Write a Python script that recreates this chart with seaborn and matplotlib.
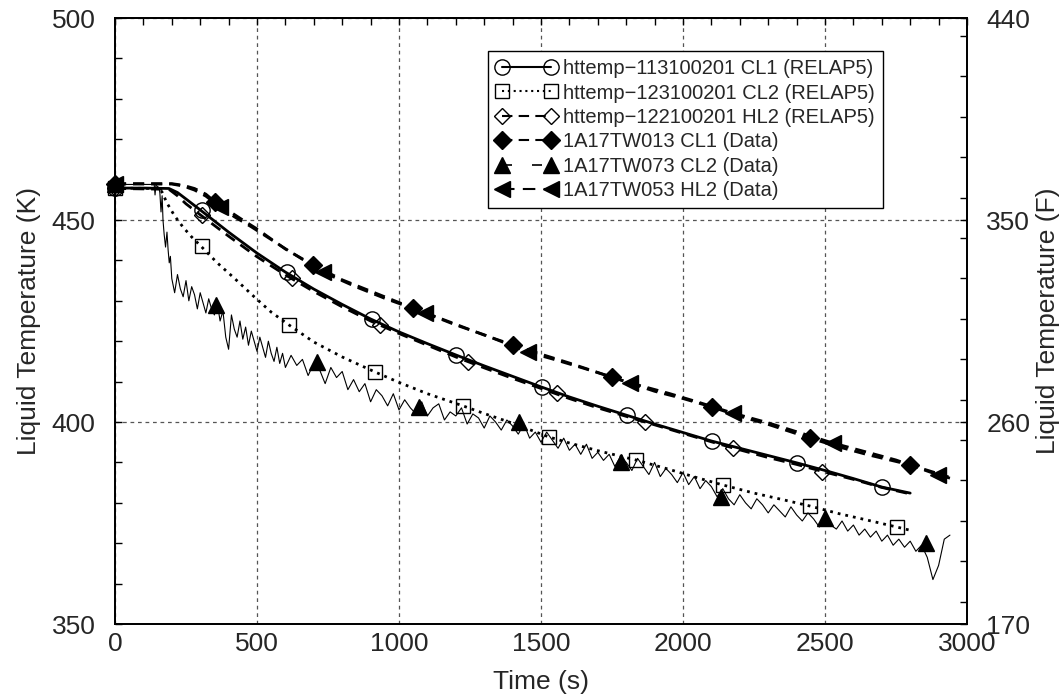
import numpy as np
import pandas as pd
import matplotlib
matplotlib.use("Agg")
import matplotlib.pyplot as plt
from matplotlib.lines import Line2D
from matplotlib.ticker import MultipleLocator
import seaborn as sns

# ---------------- data ----------------
# RELAP5 CL1 (solid, open circles)
cl1_relap_t = [0, 100, 190, 220, 250, 300, 400, 500, 600, 700, 800, 900, 1000, 1100, 1200, 1300,
               1400, 1500, 1600, 1700, 1800, 1900, 2000, 2100, 2200, 2300, 2400, 2500, 2600, 2700, 2800]
cl1_relap_T = [457.9, 457.9, 457.8, 456.8, 455.2, 452.5, 447.0, 441.8, 437.1, 432.9, 429.1, 425.5,
               422.3, 419.4, 416.6, 413.9, 411.3, 408.7, 406.2, 403.9, 401.7, 399.5, 397.4, 395.3,
               393.5, 391.7, 389.9, 388.0, 386.0, 383.9, 382.4]
cl1_relap_mt = [0, 306, 606, 905, 1201, 1503, 1803, 2102, 2401, 2701]
cl1_relap_mT = [457.9, 452.5, 437.1, 425.5, 416.6, 408.7, 401.7, 395.3, 389.9, 383.9]

# RELAP5 CL2 (dotted, open squares)
cl2_relap_t = [0, 150, 165, 183, 210, 240, 270, 300, 360, 420, 490, 550, 613, 700, 800, 915, 1000,
               1100, 1225, 1300, 1400, 1528, 1600, 1700, 1834, 1950, 2050, 2141, 2250, 2350, 2447,
               2550, 2650, 2753, 2800]
cl2_relap_T = [457.9, 457.8, 457.0, 454.2, 451.0, 448.2, 445.8, 443.7, 439.4, 435.6, 431.0, 427.2,
               424.0, 419.8, 416.1, 412.4, 409.8, 407.0, 404.0, 402.1, 399.7, 396.3, 394.8, 392.9,
               390.6, 388.3, 386.2, 384.4, 382.4, 380.8, 379.2, 377.3, 375.7, 374.0, 373.2]
cl2_relap_mt = [0, 306, 613, 915, 1225, 1528, 1834, 2141, 2447, 2753]
cl2_relap_mT = [457.9, 443.6, 424.0, 412.4, 404.0, 396.3, 390.6, 384.4, 379.2, 374.0]

# RELAP5 HL2 (dashed, open diamonds)
hl2_relap_t = [0, 190, 220, 250, 300, 400, 500, 600, 700, 800, 900, 1000, 1100, 1200, 1300, 1400,
               1500, 1600, 1700, 1800, 1900, 2000, 2100, 2200, 2300, 2400, 2500, 2600, 2700, 2800]
hl2_relap_T = [457.8, 457.6, 456.0, 454.0, 451.3, 446.0, 440.9, 436.4, 432.3, 428.5, 425.0, 421.9,
               419.0, 416.1, 413.4, 410.8, 408.3, 405.8, 403.5, 401.4, 399.3, 397.2, 395.1, 393.1,
               391.2, 389.5, 387.6, 385.8, 383.8, 382.2]
hl2_relap_mt = [0, 307, 623, 933, 1243, 1556, 1866, 2176, 2489]
hl2_relap_mT = [457.8, 451.2, 435.6, 424.0, 414.9, 407.2, 400.0, 393.6, 387.6]

# Data 1A17TW013 CL1 (dashed, filled diamonds)
cl1_data_t = [0, 200, 240, 280, 320, 352, 400, 450, 500, 550, 600, 697, 800, 900, 1049, 1200, 1300,
              1401, 1500, 1600, 1750, 1900, 2000, 2102, 2200, 2300, 2447, 2550, 2650, 2799, 2900, 2935]
cl1_data_T = [459.0, 459.0, 458.6, 457.8, 456.4, 454.5, 452.3, 450.0, 447.8, 445.3, 442.8, 438.9,
              435.2, 432.4, 428.2, 424.2, 421.5, 419.1, 416.8, 414.6, 411.1, 407.6, 405.8, 403.7,
              401.4, 399.4, 396.0, 393.8, 391.9, 389.4, 387.2, 386.4]
cl1_data_mt = [0, 352, 697, 1049, 1401, 1750, 2102, 2447, 2799]
cl1_data_mT = [459.0, 454.5, 438.9, 428.2, 419.1, 411.1, 403.7, 396.0, 389.4]

# Data 1A17TW053 HL2 (dashed, filled left triangles)
hl2_data_t = [0, 200, 240, 280, 320, 370, 420, 480, 540, 600, 732, 850, 950, 1092, 1200, 1300, 1454,
              1550, 1650, 1813, 1950, 2050, 2176, 2300, 2400, 2528, 2650, 2750, 2898, 2940]
hl2_data_T = [458.9, 458.9, 458.4, 457.4, 455.9, 453.2, 450.8, 448.3, 445.6, 442.9, 437.1, 433.4,
              430.6, 427.0, 424.0, 421.6, 417.3, 415.4, 413.3, 409.7, 407.1, 405.0, 402.2, 399.8,
              397.6, 394.8, 392.5, 390.6, 386.9, 386.1]
hl2_data_mt = [0, 370, 732, 1092, 1454, 1813, 2176, 2528, 2898]
hl2_data_mT = [458.9, 453.2, 437.1, 427.0, 417.3, 409.7, 402.2, 394.8, 386.9]

# Data 1A17TW073 CL2 (thin noisy line, filled triangles)
cl2_data_t_start = [0, 60, 120, 138, 141, 144, 155, 158, 162, 166, 169, 173, 178, 183, 187, 191, 195]
cl2_data_T_start = [458.8, 458.8, 458.8, 458.8, 456.2, 458.6, 458.0, 456.7, 452.0, 456.0, 450.0,
                    446.5, 443.3, 447.0, 442.6, 439.4, 441.0]
# t = 200 .. 590, step 10
cl2_data_T_mid = [435.5, 432.0, 436.5, 433.0, 431.0, 435.0, 430.0, 433.5, 431.5, 428.0,
                  432.0, 429.5, 427.0, 430.5, 428.0, 426.5, 429.5, 425.0, 427.5, 421.0,
                  418.0, 426.5, 423.0, 421.0, 425.0, 420.5, 423.5, 419.0, 422.5, 420.0,
                  417.5, 421.0, 418.5, 416.0, 420.0, 417.0, 415.0, 418.5, 414.5, 417.0]
# t = 600 .. 2940, step 20
cl2_data_T_end = [413.5, 416.5, 414.0, 415.5, 411.5, 414.5, 413.0, 409.5, 413.5, 411.0,
                  412.5, 408.0, 410.5, 407.5, 409.5, 405.0, 408.0, 406.5, 404.0, 407.0,
                  403.0, 405.5, 403.5, 402.0, 405.0, 401.5, 403.5, 404.5, 400.5, 402.5,
                  401.5, 403.5, 399.5, 402.0, 401.0, 398.5, 401.5, 400.0, 398.0, 400.5,
                  399.0, 397.0, 399.5, 396.0, 397.5, 395.0, 397.5, 395.5, 393.5, 396.0,
                  393.0, 394.5, 392.0, 394.5, 391.0, 392.5, 390.5, 392.0, 389.0, 391.5,
                  390.0, 388.0, 391.0, 389.0, 387.0, 390.0, 386.5, 388.5, 387.0, 385.0,
                  387.5, 384.5, 386.5, 383.5, 385.5, 384.0, 381.5, 383.5, 381.0, 379.5,
                  382.0, 380.0, 378.5, 381.0, 379.5, 377.5, 379.5, 378.0, 376.5, 379.0,
                  377.0, 375.5, 377.5, 376.0, 374.0, 376.5, 374.5, 373.5, 375.5, 373.0,
                  374.5, 372.0, 373.5, 371.5, 373.0, 370.5, 372.0, 369.5, 371.0, 369.0,
                  370.5, 368.0, 369.5, 366.5, 361.0, 364.5, 371.0, 372.0]
cl2_data_mt = [0, 356, 713, 1070, 1422, 1782, 2135, 2499, 2855]
cl2_data_mT = [458.8, 429.0, 414.9, 403.6, 400.0, 390.0, 381.4, 376.2, 370.0]

labels = ["httemp\u2212113100201 CL1 (RELAP5)",
          "httemp\u2212123100201 CL2 (RELAP5)",
          "httemp\u2212122100201 HL2 (RELAP5)",
          "1A17TW013 CL1 (Data)",
          "1A17TW073 CL2 (Data)",
          "1A17TW053 HL2 (Data)"]

x_ticks = [0, 500, 1000, 1500, 2000, 2500, 3000]
yk_ticks = [350, 400, 450, 500]
yf_ticks = [170, 260, 350, 440]

cl2_data_t = (cl2_data_t_start + list(np.arange(200, 600, 10)) + list(np.arange(600, 2960, 20)))
cl2_data_T = cl2_data_T_start + cl2_data_T_mid + cl2_data_T_end

# ---------------- style ----------------
sns.set_theme(style="white")
plt.rcParams['font.family'] = ['Liberation Sans', 'DejaVu Sans']
plt.rcParams['axes.unicode_minus'] = True

fig = plt.figure(figsize=(10.62, 7.0), dpi=100)
ax = fig.add_axes([115 / 1062, 76 / 700, 852 / 1062, 606 / 700])

DASH = (0, (4, 2.5))
series = [
    dict(t=cl1_relap_t, T=cl1_relap_T, mt=cl1_relap_mt, mT=cl1_relap_mT, ls='-', lw=2.0,
         marker='o', ms=11, mfc='none', lab=labels[0]),
    dict(t=cl2_relap_t, T=cl2_relap_T, mt=cl2_relap_mt, mT=cl2_relap_mT, ls=(0, (1, 1.8)), lw=2.0,
         marker='s', ms=10, mfc='none', lab=labels[1]),
    dict(t=hl2_relap_t, T=hl2_relap_T, mt=hl2_relap_mt, mT=hl2_relap_mT, ls=DASH, lw=2.0,
         marker='D', ms=8.5, mfc='none', lab=labels[2]),
    dict(t=cl1_data_t, T=cl1_data_T, mt=cl1_data_mt, mT=cl1_data_mT, ls=DASH, lw=2.0,
         marker='D', ms=9, mfc='black', lab=labels[3]),
    dict(t=cl2_data_t, T=cl2_data_T, mt=cl2_data_mt, mT=cl2_data_mT, ls='-', lw=0.8,
         marker='^', ms=12, mfc='black', lab=labels[4]),
    dict(t=hl2_data_t, T=hl2_data_T, mt=hl2_data_mt, mT=hl2_data_mT, ls=DASH, lw=2.0,
         marker='<', ms=12, mfc='black', lab=labels[5]),
]

legend_ls = ['-', (0, (1, 1.8)), (0, (5, 3)), (0, (5, 3)), (0, (6, 12)), (0, (6, 4))]
handles = []
for s, lls in zip(series, legend_ls):
    sns.lineplot(x=s['t'], y=s['T'], ax=ax, color='black', lw=s['lw'], linestyle=s['ls'],
                 estimator=None, sort=False, legend=False, zorder=3)
    ax.plot(s['mt'], s['mT'], linestyle='none', marker=s['marker'], ms=s['ms'],
            mfc=s['mfc'], mec='black', mew=1.0, clip_on=False, zorder=5)
    handles.append(Line2D([0], [0], color='black', lw=1.5 if s['lw'] > 1 else 1.2,
                          linestyle=lls, marker=s['marker'], ms=s['ms'], mfc=s['mfc'],
                          mec='black', mew=1.0, label=s['lab']))

ax.set_xlim(0, 3000)
ax.set_ylim(350, 500)
ax.set_xticks(x_ticks)
ax.set_yticks(yk_ticks)
ax.xaxis.set_minor_locator(MultipleLocator(100))
ax.yaxis.set_minor_locator(MultipleLocator(10))
ax.tick_params(axis='both', which='both', direction='in', top=True, right=False,
               length=5, width=1, color='black', labelsize=19)
ax.tick_params(axis='y', which='both', pad=14)
ax.tick_params(axis='x', which='both', pad=6)
for sp in ax.spines.values():
    sp.set_color('black')
    sp.set_linewidth(1.3)

ax.grid(True, which='major', color='#555555', linestyle=(0, (3, 3)), linewidth=0.9)
ax.set_axisbelow(True)

ax.set_xlabel("Time (s)", fontsize=19, labelpad=10)
ax.set_ylabel("Liquid Temperature (K)", fontsize=19, labelpad=8)

ax2 = ax.twinx()
ax2.set_ylim(170, 440)
ax2.set_yticks(yf_ticks)
ax2.yaxis.set_minor_locator(MultipleLocator(18))
ax2.tick_params(axis='y', which='both', direction='in', length=5, width=1, color='black',
                labelsize=19, pad=14)
ax2.set_ylabel("Liquid Temperature (F)", fontsize=19, labelpad=4)
ax2.grid(False)
for sp in ax2.spines.values():
    sp.set_color('black')
    sp.set_linewidth(1.3)

leg = ax.legend(handles=handles, loc='upper right', bbox_to_anchor=(0.901, 0.9455),
                borderaxespad=0, frameon=True, fancybox=False, edgecolor='black',
                framealpha=1, fontsize=14.5, handlelength=3.0, numpoints=2,
                labelspacing=0.27, borderpad=0.4, handletextpad=0.3)
leg.get_frame().set_linewidth(1.0)
leg.set_zorder(10)

fig.savefig("out.png", dpi=100)
